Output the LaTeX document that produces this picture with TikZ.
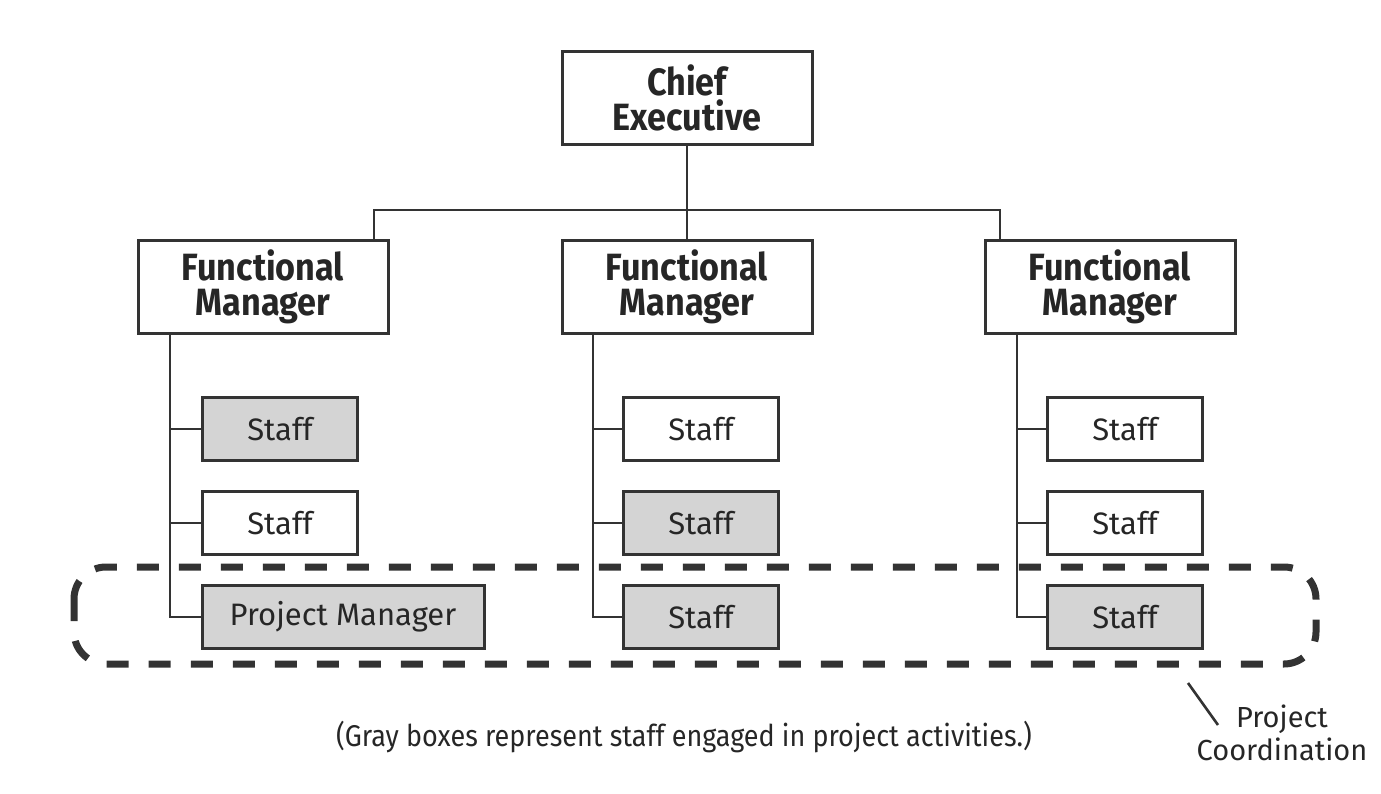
\documentclass[tikz,border=0pt]{standalone}
\usepackage{fontspec}
\setmainfont{Fira Sans}
\newfontfamily\headfont[FakeStretch=0.9]{Fira Sans}
\newfontfamily\notefont[FakeStretch=0.9]{Fira Sans}
\usetikzlibrary{positioning}

\begin{document}
\begin{tikzpicture}[x=1pt, y=-1pt,
  every node/.style={inner sep=0pt, text=black!85},
  boss/.style={draw=black!80, line width=3pt, minimum width=250pt, minimum height=93pt,
               align=center, font=\headfont\bfseries\fontsize{38}{35}\selectfont},
  staff/.style={draw=black!80, line width=3pt, fill=white, minimum width=155pt, minimum height=63pt,
                font=\fontsize{31}{34}\selectfont},
  proj/.style={staff, fill=black!17},
  link/.style={draw=black!80, line width=2.6pt},
  coord/.style={draw=black!80, line width=7pt, dash pattern=on 22pt off 20pt, rounded corners=32pt}]
\useasboundingbox (0,0) rectangle (1381,794);

\node[boss] (ceo) at (687,98) {Chief\\Executive};
\node[boss] (fm1) at (263,287) {Functional\\Manager};
\node[boss] (fm2) at (687,287) {Functional\\Manager};
\node[boss] (fm3) at (1110,287) {Functional\\Manager};

\coordinate (bus) at (687,210);
\draw[link] (ceo.south) -- (fm2.north);
\draw[link] (fm1.north -| 374,0) |- (bus) -| (fm3.north -| 1000,0);

% left column
\node[proj]  (s11) at (280,429) {Staff};
\node[staff] (s12) at (280,523) {Staff};
\node[proj, minimum width=282pt] (pm) at (343,617) {Project Manager};
% middle column
\node[staff] (s21) at (701,429) {Staff};
\node[proj]  (s22) at (701,523) {Staff};
\node[proj]  (s23) at (701,617) {Staff};
% right column
\node[staff] (s31) at (1125,429) {Staff};
\node[staff] (s32) at (1125,523) {Staff};
\node[proj]  (s33) at (1125,617) {Staff};

\draw[link] (fm1.south -| 170,0) |- (pm.west);
\draw[link] (170,0 |- s11.west) -- (s11.west);
\draw[link] (170,0 |- s12.west) -- (s12.west);
\draw[link] (fm2.south -| 593,0) |- (s23.west);
\draw[link] (593,0 |- s21.west) -- (s21.west);
\draw[link] (593,0 |- s22.west) -- (s22.west);
\draw[link] (fm3.south -| 1017,0) |- (s33.west);
\draw[link] (1017,0 |- s31.west) -- (s31.west);
\draw[link] (1017,0 |- s32.west) -- (s32.west);

\draw[coord] (74,567) rectangle (1316,664);

\node[align=center, font=\fontsize{29}{33}\selectfont] (pc) at (1282,733) {Project\\Coordination};
\coordinate (tick) at (1188,683);
\draw[link] (tick) -- (1218,725);

\node[font=\notefont\fontsize{30}{34}\selectfont] (note) at (684,737)
  {(Gray boxes represent staff engaged in project activities.)};
\end{tikzpicture}
\end{document}
